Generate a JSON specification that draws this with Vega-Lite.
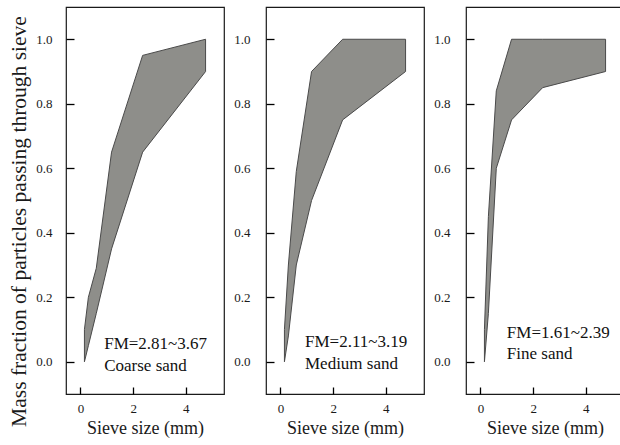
{
  "$schema": "https://vega.github.io/schema/vega-lite/v6.json",
  "padding": {"left": 8, "top": 6, "right": 0, "bottom": 0},
  "datasets": {
    "curves": [
      {"sand": "Coarse sand", "size": 0.15, "lower": 0.00, "upper": 0.10},
      {"sand": "Coarse sand", "size": 0.3, "lower": 0.05, "upper": 0.20},
      {"sand": "Coarse sand", "size": 0.6, "lower": 0.15, "upper": 0.29},
      {"sand": "Coarse sand", "size": 1.18, "lower": 0.35, "upper": 0.65},
      {"sand": "Coarse sand", "size": 2.36, "lower": 0.65, "upper": 0.95},
      {"sand": "Coarse sand", "size": 4.75, "lower": 0.90, "upper": 1.00},
      {"sand": "Medium sand", "size": 0.15, "lower": 0.00, "upper": 0.10},
      {"sand": "Medium sand", "size": 0.3, "lower": 0.08, "upper": 0.30},
      {"sand": "Medium sand", "size": 0.6, "lower": 0.30, "upper": 0.59},
      {"sand": "Medium sand", "size": 1.18, "lower": 0.50, "upper": 0.90},
      {"sand": "Medium sand", "size": 2.36, "lower": 0.75, "upper": 1.00},
      {"sand": "Medium sand", "size": 4.75, "lower": 0.90, "upper": 1.00},
      {"sand": "Fine sand", "size": 0.15, "lower": 0.00, "upper": 0.10},
      {"sand": "Fine sand", "size": 0.3, "lower": 0.15, "upper": 0.45},
      {"sand": "Fine sand", "size": 0.6, "lower": 0.60, "upper": 0.84},
      {"sand": "Fine sand", "size": 1.18, "lower": 0.75, "upper": 1.00},
      {"sand": "Fine sand", "size": 2.36, "lower": 0.85, "upper": 1.00},
      {"sand": "Fine sand", "size": 4.75, "lower": 0.90, "upper": 1.00}
    ],
    "labels": [
      {"sand": "Coarse sand", "fm": "FM=2.81~3.67"},
      {"sand": "Medium sand", "fm": "FM=2.11~3.19"},
      {"sand": "Fine sand", "fm": "FM=1.61~2.39"}
    ]
  },
  "config": {
    "font": "Liberation Serif",
    "view": {"stroke": "#1a1a1a", "strokeWidth": 1.2}
  },
  "spacing": 8,
  "hconcat": [
    {
      "width": 158, "height": 387,
      "layer": [
        {
          "data": {"name": "curves"},
          "transform": [{"filter": "datum.sand == 'Coarse sand'"}],
          "mark": {"type": "area", "fill": "#8e8e8a", "fillOpacity": 1, "stroke": "#4a4a4a", "strokeWidth": 1},
          "encoding": {
            "x": {"field": "size", "type": "quantitative", "scale": {"domain": [-0.55, 5.45], "nice": false, "zero": false},
                  "axis": {"orient": "bottom", "values": [0, 0.5, 1, 1.5, 2, 2.5, 3, 3.5, 4, 4.5, 5], "labelExpr": "datum.value % 1 == 0 ? format(datum.value, 'd') : ''", "labelOverlap": false, "grid": false, "domain": false, "ticks": true, "offset": -7, "tickSize": 7, "tickColor": "#000000", "tickWidth": 1.3, "tickDash": {"condition": {"test": "datum.value % 1 != 0", "value": [0, 3.5, 3.5, 0]}, "value": [10, 0]}, "labelPadding": 8, "labelFont": "Liberation Serif", "labelFontSize": 13, "labelColor": "#1a1a1a", "labelFlush": false, "title": "Sieve size (mm)", "titleFont": "Liberation Serif", "titleFontSize": 18, "titleFontWeight": "normal", "titleColor": "#1a1a1a", "titlePadding": 4}},
            "y": {"field": "lower", "type": "quantitative", "scale": {"domain": [-0.1, 1.1], "nice": false, "zero": false},
                  "axis": {"orient": "left", "values": [0, 0.1, 0.2, 0.3, 0.4, 0.5, 0.6, 0.7, 0.8, 0.9, 1.0], "labelExpr": "round(datum.value * 10) % 2 == 0 ? format(datum.value, '.1f') : ''", "labelOverlap": false, "grid": false, "domain": false, "ticks": true, "offset": -8, "tickSize": 8, "tickColor": "#000000", "tickWidth": 1.3, "tickDash": {"condition": {"test": "round(datum.value * 10) % 2 == 1", "value": [0, 4, 4, 0]}, "value": [10, 0]}, "labelPadding": 14, "labelFont": "Liberation Serif", "labelFontSize": 13, "labelColor": "#1a1a1a", "labelFlush": false, "title": "Mass fraction of particles passing through sieve", "titleFont": "Liberation Serif", "titleFontSize": 21.5, "titleFontWeight": "normal", "titleColor": "#1a1a1a", "titlePadding": 5, "titleY": 214}},
            "y2": {"field": "upper"}
          }
        },
        {
          "data": {"name": "labels"},
          "transform": [{"filter": "datum.sand == 'Coarse sand'"}],
          "mark": {"type": "text", "font": "Liberation Serif", "fontSize": 17, "color": "#111111", "align": "left", "baseline": "alphabetic"},
          "encoding": {
            "x": {"datum": 0.9, "type": "quantitative"},
            "y": {"datum": 0.04, "type": "quantitative"},
            "text": {"field": "fm"}
          }
        },
        {
          "data": {"name": "labels"},
          "transform": [{"filter": "datum.sand == 'Coarse sand'"}],
          "mark": {"type": "text", "font": "Liberation Serif", "fontSize": 17, "color": "#111111", "align": "left", "baseline": "alphabetic"},
          "encoding": {
            "x": {"datum": 0.9, "type": "quantitative"},
            "y": {"datum": -0.028, "type": "quantitative"},
            "text": {"field": "sand"}
          }
        }
      ]
    },
    {
      "width": 158, "height": 387,
      "layer": [
        {
          "data": {"name": "curves"},
          "transform": [{"filter": "datum.sand == 'Medium sand'"}],
          "mark": {"type": "area", "fill": "#8e8e8a", "fillOpacity": 1, "stroke": "#4a4a4a", "strokeWidth": 1},
          "encoding": {
            "x": {"field": "size", "type": "quantitative", "scale": {"domain": [-0.55, 5.45], "nice": false, "zero": false},
                  "axis": {"orient": "bottom", "values": [0, 0.5, 1, 1.5, 2, 2.5, 3, 3.5, 4, 4.5, 5], "labelExpr": "datum.value % 1 == 0 ? format(datum.value, 'd') : ''", "labelOverlap": false, "grid": false, "domain": false, "ticks": true, "offset": -7, "tickSize": 7, "tickColor": "#000000", "tickWidth": 1.3, "tickDash": {"condition": {"test": "datum.value % 1 != 0", "value": [0, 3.5, 3.5, 0]}, "value": [10, 0]}, "labelPadding": 8, "labelFont": "Liberation Serif", "labelFontSize": 13, "labelColor": "#1a1a1a", "labelFlush": false, "title": "Sieve size (mm)", "titleFont": "Liberation Serif", "titleFontSize": 18, "titleFontWeight": "normal", "titleColor": "#1a1a1a", "titlePadding": 4}},
            "y": {"field": "lower", "type": "quantitative", "scale": {"domain": [-0.1, 1.1], "nice": false, "zero": false},
                  "axis": {"orient": "left", "values": [0, 0.1, 0.2, 0.3, 0.4, 0.5, 0.6, 0.7, 0.8, 0.9, 1.0], "labelExpr": "round(datum.value * 10) % 2 == 0 ? format(datum.value, '.1f') : ''", "labelOverlap": false, "grid": false, "domain": false, "ticks": true, "offset": -8, "tickSize": 8, "tickColor": "#000000", "tickWidth": 1.3, "tickDash": {"condition": {"test": "round(datum.value * 10) % 2 == 1", "value": [0, 4, 4, 0]}, "value": [10, 0]}, "labelPadding": 16, "labelFont": "Liberation Serif", "labelFontSize": 13, "labelColor": "#1a1a1a", "labelFlush": false, "title": null}},
            "y2": {"field": "upper"}
          }
        },
        {
          "data": {"name": "labels"},
          "transform": [{"filter": "datum.sand == 'Medium sand'"}],
          "mark": {"type": "text", "font": "Liberation Serif", "fontSize": 17, "color": "#111111", "align": "left", "baseline": "alphabetic"},
          "encoding": {
            "x": {"datum": 0.93, "type": "quantitative"},
            "y": {"datum": 0.045, "type": "quantitative"},
            "text": {"field": "fm"}
          }
        },
        {
          "data": {"name": "labels"},
          "transform": [{"filter": "datum.sand == 'Medium sand'"}],
          "mark": {"type": "text", "font": "Liberation Serif", "fontSize": 17, "color": "#111111", "align": "left", "baseline": "alphabetic"},
          "encoding": {
            "x": {"datum": 0.93, "type": "quantitative"},
            "y": {"datum": -0.022, "type": "quantitative"},
            "text": {"field": "sand"}
          }
        }
      ]
    },
    {
      "width": 158, "height": 387,
      "layer": [
        {
          "data": {"name": "curves"},
          "transform": [{"filter": "datum.sand == 'Fine sand'"}],
          "mark": {"type": "area", "fill": "#8e8e8a", "fillOpacity": 1, "stroke": "#4a4a4a", "strokeWidth": 1},
          "encoding": {
            "x": {"field": "size", "type": "quantitative", "scale": {"domain": [-0.55, 5.45], "nice": false, "zero": false},
                  "axis": {"orient": "bottom", "values": [0, 0.5, 1, 1.5, 2, 2.5, 3, 3.5, 4, 4.5, 5], "labelExpr": "datum.value % 1 == 0 ? format(datum.value, 'd') : ''", "labelOverlap": false, "grid": false, "domain": false, "ticks": true, "offset": -7, "tickSize": 7, "tickColor": "#000000", "tickWidth": 1.3, "tickDash": {"condition": {"test": "datum.value % 1 != 0", "value": [0, 3.5, 3.5, 0]}, "value": [10, 0]}, "labelPadding": 8, "labelFont": "Liberation Serif", "labelFontSize": 13, "labelColor": "#1a1a1a", "labelFlush": false, "title": "Sieve size (mm)", "titleFont": "Liberation Serif", "titleFontSize": 18, "titleFontWeight": "normal", "titleColor": "#1a1a1a", "titlePadding": 4}},
            "y": {"field": "lower", "type": "quantitative", "scale": {"domain": [-0.1, 1.1], "nice": false, "zero": false},
                  "axis": {"orient": "left", "values": [0, 0.1, 0.2, 0.3, 0.4, 0.5, 0.6, 0.7, 0.8, 0.9, 1.0], "labelExpr": "round(datum.value * 10) % 2 == 0 ? format(datum.value, '.1f') : ''", "labelOverlap": false, "grid": false, "domain": false, "ticks": true, "offset": -8, "tickSize": 8, "tickColor": "#000000", "tickWidth": 1.3, "tickDash": {"condition": {"test": "round(datum.value * 10) % 2 == 1", "value": [0, 4, 4, 0]}, "value": [10, 0]}, "labelPadding": 16, "labelFont": "Liberation Serif", "labelFontSize": 13, "labelColor": "#1a1a1a", "labelFlush": false, "title": null}},
            "y2": {"field": "upper"}
          }
        },
        {
          "data": {"name": "labels"},
          "transform": [{"filter": "datum.sand == 'Fine sand'"}],
          "mark": {"type": "text", "font": "Liberation Serif", "fontSize": 17, "color": "#111111", "align": "left", "baseline": "alphabetic"},
          "encoding": {
            "x": {"datum": 1.0, "type": "quantitative"},
            "y": {"datum": 0.075, "type": "quantitative"},
            "text": {"field": "fm"}
          }
        },
        {
          "data": {"name": "labels"},
          "transform": [{"filter": "datum.sand == 'Fine sand'"}],
          "mark": {"type": "text", "font": "Liberation Serif", "fontSize": 17, "color": "#111111", "align": "left", "baseline": "alphabetic"},
          "encoding": {
            "x": {"datum": 1.0, "type": "quantitative"},
            "y": {"datum": 0.01, "type": "quantitative"},
            "text": {"field": "sand"}
          }
        }
      ]
    }
  ]
}
